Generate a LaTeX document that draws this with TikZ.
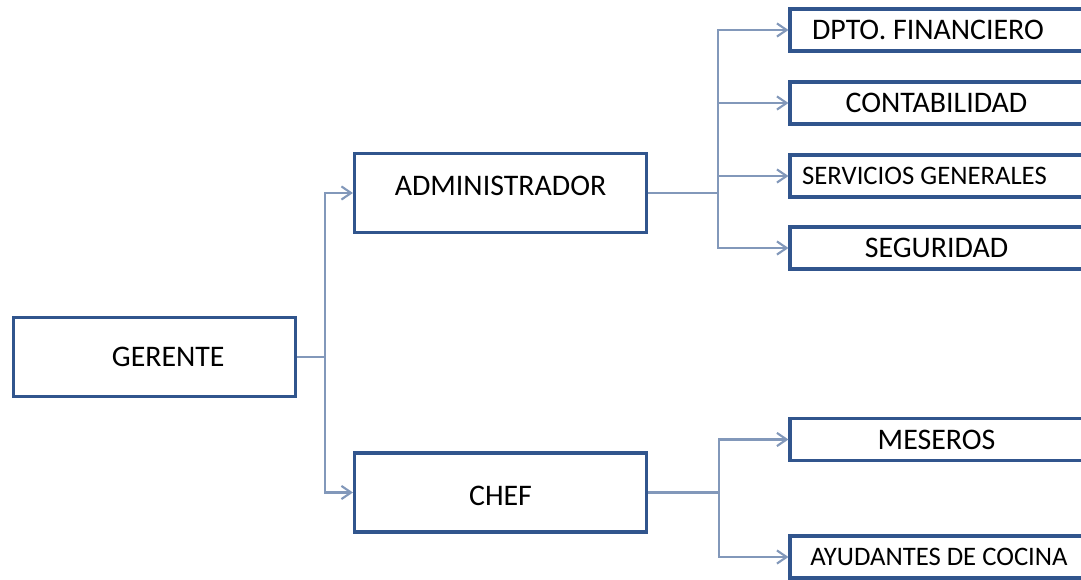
\documentclass[tikz,border=0pt]{standalone}
\usepackage{fontspec}
\setmainfont{Carlito}
\usepackage{tikz}
\usetikzlibrary{arrows.meta,positioning,calc}

\definecolor{boxblue}{HTML}{31558D}
\definecolor{linkblue}{HTML}{8298BA}

\begin{document}
\begin{tikzpicture}[
    x=0.02cm,y=-0.02cm,
    bigbox/.style={draw=boxblue,line width=1.8pt,fill=white,
      minimum width=5.7cm,minimum height=1.58cm,inner sep=0pt,font=\fontsize{17}{20}\selectfont},
    smallbox/.style={draw=boxblue,line width=1.8pt,fill=white,
      minimum width=5.86cm,minimum height=0.84cm,inner sep=0pt,font=\fontsize{17}{20}\selectfont},
    link/.style={draw=linkblue,line width=1.2pt},
    use/.style={-{Straight Barb[length=5.5pt,width=7.5pt]},draw=linkblue,line width=1.2pt}
  ]
    \useasboundingbox (0,0) rectangle (1081,580);

    % top levels
    \node[bigbox,minimum width=5.64cm] (ger) at (154.5,357) {\hspace*{0.55cm}GERENTE};
    \node[bigbox,minimum width=5.84cm] (adm) at (500.5,193) {\raisebox{0.14cm}[\height][0pt]{ADMINISTRADOR}};
    \node[bigbox,minimum width=5.84cm] (chef) at (500.5,492.5) {\raisebox{-0.06cm}[\height][0pt]{CHEF}};

    % departments under the administrator
    \node[smallbox] (fin) at (936.5,30) {DPTO. FINANCIERO\hspace*{0.34cm}};
    \node[smallbox] (con) at (936.5,103) {CONTABILIDAD};
    \node[smallbox,font=\fontsize{15.2}{18}\selectfont] (ser) at (936.5,176)
      {SERVICIOS GENERALES\hspace*{0.48cm}};
    \node[smallbox] (seg) at (936.5,248) {SEGURIDAD};

    % kitchen staff
    \node[smallbox] (mes) at (936.5,439.5) {MESEROS};
    \node[smallbox,font=\fontsize{15.2}{18}\selectfont] (ayu) at (936.5,557)
      {\hspace*{0.1cm}AYUDANTES DE COCINA};

    % branching points
    \coordinate (jg) at (325,357);
    \coordinate (ja) at (718,193);
    \coordinate (jc) at (719,492.5);

    \draw[link] (ger.east) -- (jg);
    \foreach \n in {adm,chef} {\draw[use] (jg) |- (\n.west);}

    \draw[link] (adm.east) -- (ja);
    \foreach \n in {fin,con,ser,seg} {\draw[use] (ja) |- (\n.west);}

    \draw[link] (chef.east) -- (jc);
    \foreach \n in {mes,ayu} {\draw[use] (jc) |- (\n.west);}
  \end{tikzpicture}
\end{document}
